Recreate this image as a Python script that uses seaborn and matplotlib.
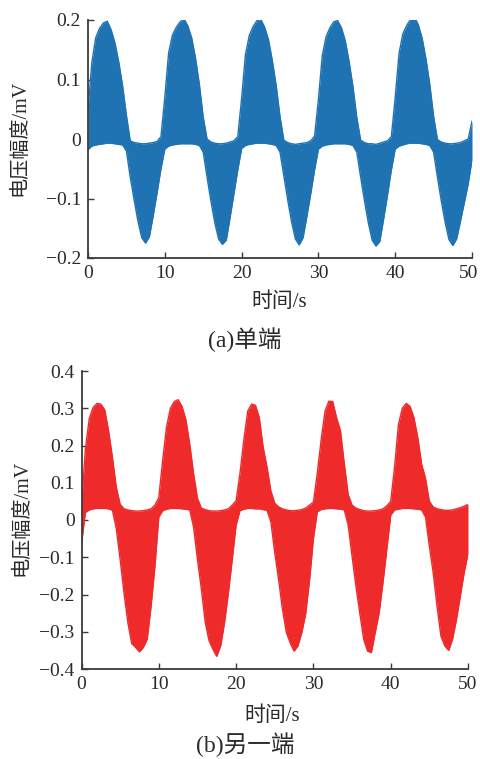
import numpy as np
import pandas as pd
import seaborn as sns
import matplotlib
matplotlib.use("Agg")
import matplotlib.pyplot as plt
import matplotlib.transforms as mtransforms
from matplotlib.ticker import FuncFormatter

# time grid (s), envelope samples every 0.5 s
t = [i * 0.5 for i in range(101)]

# panel (a) single end: upper / lower envelope (mV)
ua = [0.050, 0.128, 0.170, 0.186, 0.195, 0.198, 0.184, 0.162, 0.130, 0.090,
      0.040, -0.003, -0.006, -0.007, -0.008, -0.008, -0.007, -0.006, -0.004, 0.004,
      0.070, 0.145, 0.175, 0.188, 0.197, 0.202, 0.190, 0.170, 0.136, 0.092,
      0.037, 0.000, -0.005, -0.007, -0.008, -0.008, -0.007, -0.005, -0.003, 0.004,
      0.068, 0.142, 0.174, 0.189, 0.199, 0.201, 0.188, 0.167, 0.132, 0.090,
      0.038, -0.002, -0.006, -0.008, -0.009, -0.008, -0.007, -0.006, -0.003, 0.005,
      0.066, 0.140, 0.172, 0.187, 0.197, 0.199, 0.187, 0.165, 0.130, 0.088,
      0.036, -0.002, -0.006, -0.008, -0.008, -0.009, -0.007, -0.005, -0.003, 0.004,
      0.070, 0.144, 0.177, 0.191, 0.201, 0.206, 0.192, 0.170, 0.135, 0.092,
      0.038, -0.001, -0.005, -0.007, -0.008, -0.008, -0.007, -0.006, -0.003, 0.000,
      0.030]
la = [-0.018, -0.012, -0.010, -0.009, -0.008, -0.007, -0.007, -0.008, -0.009, -0.010,
      -0.020, -0.064, -0.102, -0.138, -0.166, -0.175, -0.164, -0.128, -0.090, -0.050,
      -0.017, -0.012, -0.010, -0.009, -0.008, -0.008, -0.008, -0.008, -0.009, -0.011,
      -0.022, -0.064, -0.104, -0.140, -0.168, -0.177, -0.170, -0.132, -0.092, -0.052,
      -0.016, -0.011, -0.009, -0.008, -0.007, -0.007, -0.007, -0.008, -0.009, -0.011,
      -0.022, -0.062, -0.102, -0.139, -0.168, -0.178, -0.166, -0.130, -0.092, -0.052,
      -0.017, -0.012, -0.010, -0.009, -0.008, -0.008, -0.008, -0.008, -0.009, -0.011,
      -0.022, -0.064, -0.104, -0.141, -0.170, -0.180, -0.172, -0.134, -0.094, -0.052,
      -0.017, -0.012, -0.010, -0.008, -0.007, -0.007, -0.007, -0.008, -0.009, -0.011,
      -0.022, -0.064, -0.104, -0.140, -0.169, -0.179, -0.168, -0.138, -0.107, -0.076,
      -0.035]

# panel (b) other end: upper / lower envelope (mV)
ub = [0.040, 0.190, 0.272, 0.302, 0.313, 0.311, 0.296, 0.240, 0.168, 0.088,
      0.042, 0.030, 0.027, 0.025, 0.024, 0.024, 0.025, 0.027, 0.030, 0.040,
      0.060, 0.160, 0.250, 0.300, 0.318, 0.323, 0.305, 0.270, 0.204, 0.124,
      0.058, 0.032, 0.028, 0.025, 0.024, 0.024, 0.025, 0.027, 0.030, 0.040,
      0.052, 0.125, 0.215, 0.292, 0.311, 0.308, 0.275, 0.195, 0.142, 0.078,
      0.045, 0.035, 0.030, 0.027, 0.025, 0.025, 0.026, 0.028, 0.032, 0.040,
      0.048, 0.125, 0.215, 0.292, 0.319, 0.318, 0.274, 0.240, 0.150, 0.068,
      0.040, 0.032, 0.028, 0.025, 0.024, 0.024, 0.025, 0.027, 0.030, 0.038,
      0.050, 0.142, 0.256, 0.300, 0.313, 0.305, 0.275, 0.222, 0.150, 0.112,
      0.050, 0.035, 0.030, 0.028, 0.026, 0.026, 0.027, 0.030, 0.033, 0.037,
      0.042]
lb = [-0.065, 0.020, 0.027, 0.030, 0.031, 0.031, 0.031, 0.030, 0.026, -0.023,
      -0.106, -0.196, -0.276, -0.332, -0.342, -0.354, -0.342, -0.320, -0.232, -0.124,
      0.008, 0.025, 0.029, 0.031, 0.031, 0.031, 0.030, 0.029, 0.027, -0.019,
      -0.106, -0.184, -0.274, -0.324, -0.347, -0.366, -0.338, -0.276, -0.196, -0.106,
      -0.014, 0.025, 0.029, 0.031, 0.031, 0.030, 0.030, 0.028, 0.026, -0.005,
      -0.088, -0.160, -0.240, -0.302, -0.330, -0.352, -0.338, -0.302, -0.252, -0.162,
      -0.050, 0.022, 0.028, 0.030, 0.031, 0.031, 0.030, 0.029, 0.027, -0.014,
      -0.097, -0.178, -0.250, -0.320, -0.352, -0.356, -0.302, -0.250, -0.168, -0.078,
      0.013, 0.027, 0.029, 0.031, 0.031, 0.031, 0.030, 0.029, 0.027, 0.008,
      -0.070, -0.142, -0.232, -0.312, -0.338, -0.350, -0.320, -0.268, -0.205, -0.142,
      -0.090]

xticks = [0, 10, 20, 30, 40, 50]
yticks_a = [-0.2, -0.1, 0, 0.1, 0.2]
yticks_b = [-0.4, -0.3, -0.2, -0.1, 0, 0.1, 0.2, 0.3, 0.4]
ylabel = "电压幅度/mV"
xlabel = "时间/s"
caption_a = "(a)单端"
caption_b = "(b)另一端"
color_a = "#1f73b3"
color_b = "#ee2a2b"

sns.set_theme(style="ticks")
plt.rcParams['font.family'] = ['Liberation Serif', 'Noto Sans CJK SC', 'DejaVu Sans']
plt.rcParams['axes.unicode_minus'] = True

fig = plt.figure(figsize=(4.8, 7.59), dpi=100)
W, H = 480, 759


def px_axes(left, top, right, bottom):
    return fig.add_axes([left / W, 1 - bottom / H, (right - left) / W, (bottom - top) / H])


ax_a = px_axes(88, 20, 472, 258)
ax_b = px_axes(81.5, 371, 468, 669)

df_a = pd.DataFrame({"t": t, "upper": ua, "lower": la})
df_b = pd.DataFrame({"t": t, "upper": ub, "lower": lb})


def fmt(v, pos):
    if abs(v) < 1e-9:
        return "0"
    s = f"{v:.1f}"
    return s.replace("-", "\u2212")


for ax, df, col, yt in [(ax_a, df_a, color_a, yticks_a), (ax_b, df_b, color_b, yticks_b)]:
    ax.fill_between(df["t"], df["lower"], df["upper"], color=col, linewidth=0)
    sns.lineplot(data=df, x="t", y="upper", ax=ax, color=col, linewidth=1.0)
    sns.lineplot(data=df, x="t", y="lower", ax=ax, color=col, linewidth=1.0)
    ax.set_xlim(0, 50)
    ax.set_ylim(yt[0], yt[-1])
    ax.set_xticks(xticks)
    ax.set_yticks(yt)
    ax.yaxis.set_major_formatter(FuncFormatter(fmt))
    ax.set_xlabel("")
    ax.set_ylabel("")
    for s in ["top", "right"]:
        ax.spines[s].set_visible(False)
    for s in ["left", "bottom"]:
        ax.spines[s].set_color("#3a3a3a")
        ax.spines[s].set_linewidth(1.3)
    ax.tick_params(direction="in", length=4, width=1, colors="#3a3a3a",
                   labelsize=14, labelcolor="#2a2a2a", pad=5)
    for lab in ax.get_xticklabels() + ax.get_yticklabels():
        lab.set_fontfamily(['Liberation Serif', 'DejaVu Sans'])

# nudge the last x tick label of panel (a) so it stays inside the canvas
last_lab = ax_a.get_xticklabels()[-1]
last_lab.set_transform(last_lab.get_transform() +
                       mtransforms.ScaledTranslation(-3 / 100, 0, fig.dpi_scale_trans))

fam = ['Liberation Serif', 'Noto Sans CJK SC']
fig.text(20 / W, 1 - 138 / H, ylabel, rotation=90, ha="center", va="center",
         fontsize=14.5, family=fam, color="#2a2a2a")
fig.text(22 / W, 1 - 518 / H, ylabel, rotation=90, ha="center", va="center",
         fontsize=14.5, family=fam, color="#2a2a2a")
fig.text(279 / W, 1 - 302 / H, xlabel, ha="center", va="center",
         fontsize=15, family=fam, color="#2a2a2a")
fig.text(272 / W, 1 - 716 / H, xlabel, ha="center", va="center",
         fontsize=15, family=fam, color="#2a2a2a")
fig.text(245 / W, 1 - 340 / H, caption_a, ha="center", va="center",
         fontsize=17, family=fam, color="#2a2a2a")
fig.text(245 / W, 1 - 745 / H, caption_b, ha="center", va="center",
         fontsize=17, family=fam, color="#2a2a2a")

fig.savefig("out.png", dpi=100)
